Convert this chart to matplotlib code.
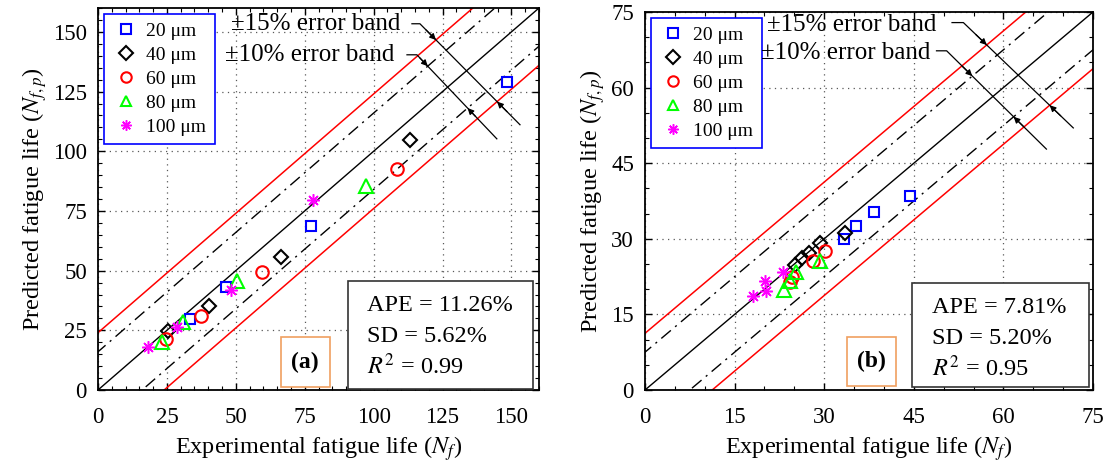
import matplotlib
matplotlib.use("Agg")
import matplotlib.pyplot as plt
from matplotlib.patches import Rectangle
from matplotlib.ticker import MultipleLocator
import numpy as np

plt.rcParams['font.family'] = ['Liberation Serif', 'DejaVu Serif']
plt.rcParams['mathtext.fontset'] = 'stix'

# ---- data ----
sizes = ["20 μm", "40 μm", "60 μm", "80 μm", "100 μm"]

# panel (a)
a_x = [
    [33.4, 46.4, 77.3, 148.5],
    [25.5, 40.4, 66.4, 113.3],
    [24.7, 37.4, 59.4, 108.3],
    [23.4, 30.9, 50.5, 97.4],
    [18.3, 28.5, 48.2, 78.1],
]
a_y = [
    [29.8, 43.3, 68.7, 129.2],
    [24.8, 35.2, 55.6, 104.8],
    [21.3, 31.0, 49.3, 92.6],
    [20.3, 28.6, 45.7, 85.6],
    [18.2, 26.5, 41.9, 79.6],
]
a_stats = ["APE = 11.26%", "SD = 5.62%", "$R^2$ = 0.99"]
a_ticks = [0, 25, 50, 75, 100, 125, 150]
a_max = 160

# panel (b)
b_x = [
    [33.3, 35.3, 38.4, 44.4],
    [25.1, 26.2, 27.4, 29.3, 33.4],
    [24.3, 24.6, 28.1, 30.2],
    [23.2, 24.3, 25.3, 29.3],
    [18.0, 20.1, 20.3, 23.1],
]
b_y = [
    [29.9, 32.5, 35.4, 38.4],
    [24.8, 26.1, 27.1, 29.1, 31.1],
    [21.5, 22.4, 25.5, 27.6],
    [19.8, 21.6, 23.5, 25.5],
    [18.7, 21.7, 19.6, 23.5],
]
b_stats = ["APE = 7.81%", "SD = 5.20%", "$R^2$ = 0.95"]
b_ticks = [0, 15, 30, 45, 60, 75]
b_max = 75

markers = ['s', 'D', 'o', '^', (8, 2, 0)]
colors = ['#0000ff', 'black', '#ff0000', '#00ff00', '#ff00ff']
msizes = [7, 7, 9, 10, 9]
mews = [1.5, 1.5, 1.5, 1.5, 1.1]

DASHDOT = (0, (9, 4, 1.5, 4))


def band_hits(bend, end, d):
    # intersections of leader line with y = x + d and y = x - d
    bx, by = bend
    ex, ey = end
    dx, dy = ex - bx, ey - by
    out = []
    for off in (d, -d):
        t = (bx + off - by) / (dy - dx)
        out.append((bx + t * dx, by + t * dy))
    return out


def draw_panel(ax, xs, ys, vmax, ticks, minor, stats, tag,
               leaders, stats_box, tag_box, stat_pos):
    ax.set_xlim(0, vmax)
    ax.set_ylim(0, vmax)
    ax.set_xticks(ticks)
    ax.set_yticks(ticks)
    ax.xaxis.set_minor_locator(MultipleLocator(minor))
    ax.yaxis.set_minor_locator(MultipleLocator(minor))
    ax.tick_params(which='both', direction='in', top=True, right=True,
                   labelsize=16.5)
    ax.tick_params(axis='y', which='both', pad=8)
    ax.tick_params(axis='x', which='both', pad=12)
    ax.tick_params(which='major', length=5, width=1.0)
    ax.tick_params(which='minor', length=3, width=0.8)
    ax.grid(True, which='major', linestyle=(0, (1, 3.5)), color='0.35',
            linewidth=0.9)
    for s in ax.spines.values():
        s.set_linewidth(1.3)

    # 1:1 line and error bands
    d15 = 0.15 * vmax
    d10 = 0.10 * vmax
    xl = np.array([-vmax, 2 * vmax])
    ax.plot(xl, xl, color='black', lw=1.0, zorder=2)
    for sgn in (1, -1):
        ax.plot(xl, xl + sgn * d10, color='black', lw=1.0, ls=DASHDOT, zorder=2)
        ax.plot(xl, xl + sgn * d15, color='#ff0000', lw=1.1, zorder=2)

    # data
    for i in range(len(sizes)):
        ax.plot(xs[i], ys[i], linestyle='None', marker=markers[i],
                markersize=msizes[i], markerfacecolor='none',
                markeredgecolor=colors[i], markeredgewidth=mews[i],
                label=sizes[i], zorder=4)

    leg = ax.legend(loc='upper left', fontsize=14, frameon=True,
                    fancybox=False, edgecolor='#0000ff', framealpha=1,
                    handlelength=1.37, handletextpad=0.35, labelspacing=0.32,
                    borderpad=0.45, borderaxespad=0.3)
    leg.get_frame().set_linewidth(1.2)
    for h in leg.legend_handles:
        h.set_markersize(7.5)

    # error band leaders
    for txt, tpos, start, bend, end, d in leaders:
        ax.text(tpos[0], tpos[1], txt, fontsize=18, ha='left', va='center',
                zorder=6)
        up, lo = band_hits(bend, end, d)
        ax.plot([start[0], bend[0], end[0]], [start[1], bend[1], end[1]],
                color='black', lw=0.9, zorder=5, clip_on=False)
        dx, dy = end[0] - bend[0], end[1] - bend[1]
        ax.annotate('', xy=up, xytext=(up[0] - 0.1 * dx, up[1] - 0.1 * dy),
                    arrowprops=dict(arrowstyle='-|>', lw=0.9, color='black',
                                    mutation_scale=9, shrinkA=0, shrinkB=0),
                    zorder=5)
        ax.annotate('', xy=lo, xytext=(lo[0] + 0.1 * dx, lo[1] + 0.1 * dy),
                    arrowprops=dict(arrowstyle='-|>', lw=0.9, color='black',
                                    mutation_scale=9, shrinkA=0, shrinkB=0),
                    zorder=5)

    # statistics box
    x0, y0, x1, y1 = stats_box
    ax.add_patch(Rectangle((x0, y0), x1 - x0, y1 - y0, transform=ax.transAxes,
                           facecolor='white', edgecolor='#333333', lw=1.2,
                           zorder=6))
    for line, yy in zip(stats, stat_pos[1]):
        ax.text(stat_pos[0], yy, line, transform=ax.transAxes, fontsize=17.5,
                ha='left', va='center', zorder=7)

    # panel tag box
    x0, y0, x1, y1 = tag_box
    ax.add_patch(Rectangle((x0, y0), x1 - x0, y1 - y0, transform=ax.transAxes,
                           facecolor='white', edgecolor='#f0a060', lw=1.2,
                           zorder=6))
    ax.text((x0 + x1) / 2, (y0 + y1) / 2, tag, transform=ax.transAxes,
            fontsize=17, fontweight='bold', ha='center', va='center', zorder=7)

    ax.set_xlabel("Experimental fatigue life ($N_f$)", fontsize=17.5, labelpad=5)
    ax.set_ylabel("Predicted fatigue life ($N_{f,p}$)", fontsize=17.5,
                  labelpad=3)


fig = plt.figure(figsize=(11.11, 4.70), dpi=100)
W, H = 1111.0, 470.0
ax_a = fig.add_axes([98 / W, 80 / H, 441 / W, 382 / H])
ax_b = fig.add_axes([645 / W, 80 / H, 448 / W, 378 / H])

draw_panel(
    ax_a, a_x, a_y, a_max, a_ticks, 5, a_stats, "(a)",
    leaders=[
        ("±15% error band", (48.2, 153.4), (113.9, 153.4), (116.8, 153.4),
         (153.1, 111.1), 0.15 * a_max),
        ("±10% error band", (46.1, 140.4), (112.1, 140.4), (115.7, 140.4),
         (144.7, 105.2), 0.10 * a_max),
    ],
    stats_box=(0.566, 0.002, 0.987, 0.285),
    tag_box=(0.414, 0.007, 0.525, 0.138),
    stat_pos=(0.611, [0.220, 0.140, 0.063]),
)

draw_panel(
    ax_b, b_x, b_y, b_max, b_ticks, 5, b_stats, "(b)",
    leaders=[
        ("±15% error band", (20.4, 72.4), (51.4, 72.9), (53.3, 72.9),
         (71.7, 52.0), 0.15 * b_max),
        ("±10% error band", (19.5, 66.8), (48.8, 67.3), (50.5, 67.3),
         (67.2, 47.8), 0.10 * b_max),
    ],
    stats_box=(0.595, 0.009, 0.992, 0.284),
    tag_box=(0.452, 0.011, 0.560, 0.141),
    stat_pos=(0.640, [0.219, 0.137, 0.057]),
)

fig.savefig("out.png", dpi=100)
